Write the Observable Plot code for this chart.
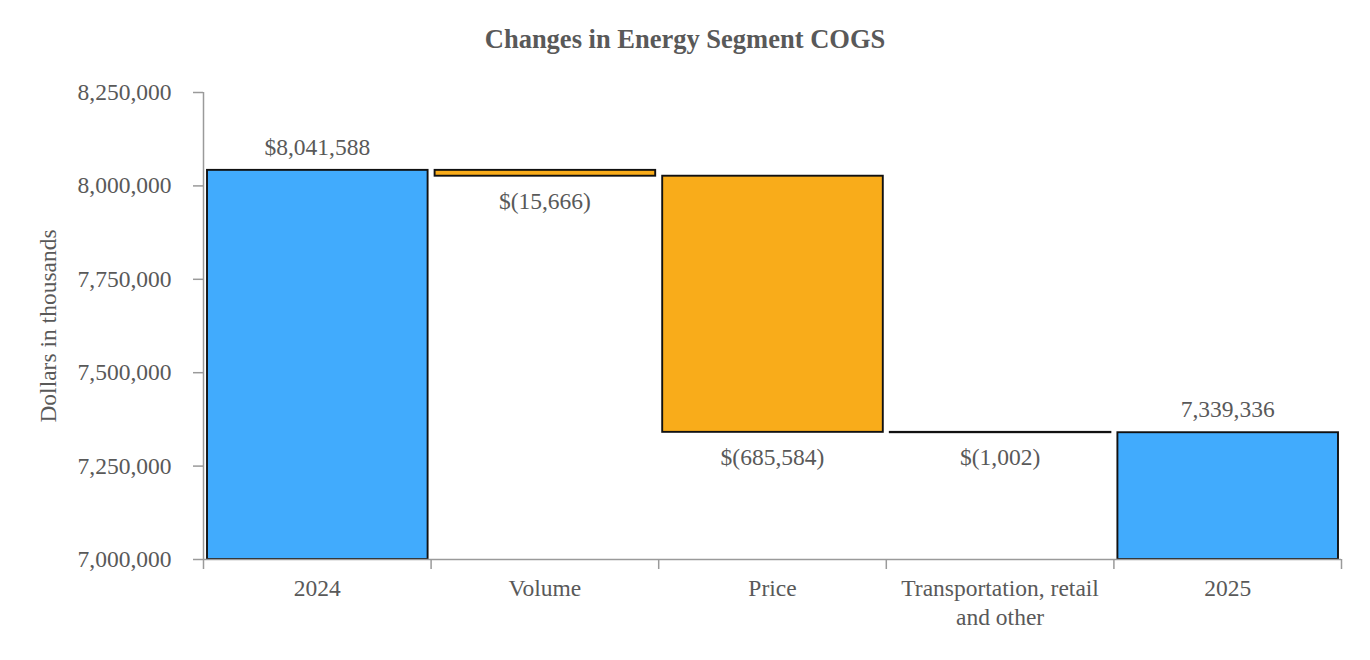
<!DOCTYPE html>
<html>
<head>
<meta charset="utf-8">
<script src="https://cdn.jsdelivr.net/npm/d3@7"></script>
<script src="https://cdn.jsdelivr.net/npm/@observablehq/plot@0.6"></script>
<style>
  html, body { margin: 0; padding: 0; background: #fff; font-family: 'Liberation Serif', serif; }
  #title {
    width: 1370px; height: 70px; box-sizing: border-box; padding-top: 24px;
    text-align: center; font-family: 'Liberation Serif', serif;
    font-weight: bold; font-size: 26.5px; line-height: 31px; color: #595959;
  }
  #chart svg { display: block; }
  #chart svg text { font-family: 'Liberation Serif', serif !important; }
</style>
</head>
<body>
<div id="title">Changes in Energy Segment COGS</div>
<div id="chart"></div>
<script>
// ---- data ----
const categories = ["2024", "Volume", "Price", "Transportation, retail and other", "2025"];
const axisLabels = ["2024", "Volume", "Price", "Transportation, retail\nand other", "2025"];
const amounts = [8041588, -15666, -685584, -1002, 7339336];
const kinds = ["total", "change", "change", "change", "total"];
const valueLabels = ["$8,041,588", "$(15,666)", "$(685,584)", "$(1,002)", "7,339,336"];
const yTicks = [7000000, 7250000, 7500000, 7750000, 8000000, 8250000];
const colors = { total: "#41abfd", change: "#f9ac1a" };

// ---- waterfall table ----
let running = 0;
const rows = categories.map((c, i) => {
  let lo, hi;
  if (kinds[i] === "total") {
    lo = yTicks[0]; hi = amounts[i]; running = amounts[i];
  } else {
    const start = running; running = running + amounts[i];
    lo = Math.min(start, running); hi = Math.max(start, running);
  }
  return { i, category: c, lo, hi, kind: kinds[i], label: valueLabels[i], color: colors[kinds[i]] };
});

const textColor = "#595959";
const axisColor = "#9a9a9a";
const fs = 23.5;

const chart = Plot.plot({
  width: 1370,
  height: 590,
  marginLeft: 203,
  marginRight: 29,
  marginTop: 22,
  marginBottom: 101,
  style: { fontFamily: "Liberation Serif, serif", fontSize: fs + "px", color: textColor, background: "#fff" },
  x: { domain: [0, categories.length], axis: null },
  y: { domain: [yTicks[0], yTicks[yTicks.length - 1]], axis: null },
  marks: [
    Plot.rectY(rows, {
      x1: "i", x2: d => d.i + 1, y1: "lo", y2: "hi",
      fill: "color", stroke: "#111", strokeWidth: 1.9,
      insetLeft: 4, insetRight: 3
    }),
    Plot.ruleX([0], { stroke: axisColor, strokeWidth: 1.5 }),
    Plot.ruleY([yTicks[0]], { stroke: axisColor, strokeWidth: 1.5 }),
    Plot.axisY({
      ticks: yTicks, tickFormat: d3.format(","), tickSize: 10, tickPadding: 22,
      stroke: axisColor, strokeWidth: 1.5, fill: textColor, fontSize: fs,
      label: "Dollars in thousands", labelAnchor: "center", labelOffset: 164, labelArrow: "none"
    }),
    Plot.axisX({
      ticks: d3.range(0, categories.length + 1), tickFormat: () => "", tickSize: 10,
      stroke: axisColor, strokeWidth: 1.5, label: null
    }),
    Plot.axisX({
      ticks: rows.map(d => d.i + 0.5), tickSize: 0, tickPadding: 16,
      tickFormat: v => axisLabels[Math.floor(v)], lineHeight: 1.23,
      fill: textColor, fontSize: fs, label: null
    }),
    Plot.text(rows, {
      filter: d => d.kind === "total",
      x: d => d.i + 0.5, y: "hi", text: "label", dy: -23,
      fill: textColor, fontSize: fs
    }),
    Plot.text(rows, {
      filter: d => d.kind === "change",
      x: d => d.i + 0.5, y: "lo", text: "label", dy: 25,
      fill: textColor, fontSize: fs
    })
  ]
});
document.getElementById("chart").appendChild(chart);
</script>
</body>
</html>
